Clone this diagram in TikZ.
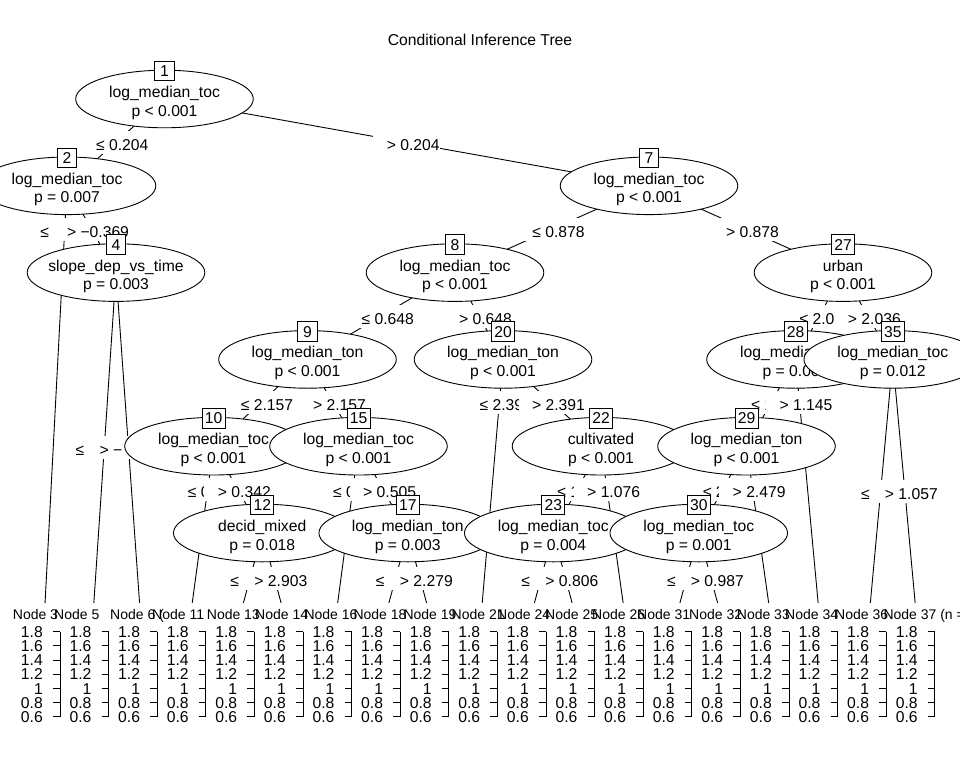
\documentclass[tikz,border=0pt]{standalone}
\usepackage{fontspec}
\setmainfont{Liberation Sans}
\usetikzlibrary{shapes.geometric,calc}
\tikzset{
  every node/.style={font=\fontsize{15.7}{18}\selectfont},
  ell/.style={ellipse, draw, fill=white, minimum width=177.6pt, minimum height=57.6pt, inner sep=0pt, line width=0.9pt},
  numbox/.style={rectangle, draw, fill=white, minimum width=19.5pt, minimum height=19.5pt, inner xsep=2.8pt, inner ysep=0pt, text height=11.3pt, text depth=0pt, line width=0.9pt},
  ntxt/.style={anchor=base, inner sep=0pt},
  edge/.style={line width=0.9pt},
  elab/.style={fill=white, inner xsep=0.5pt, inner ysep=2pt, text height=17.5pt, text depth=1.5pt},
  tlab/.style={anchor=base west, inner sep=0pt, font=\fontsize{14}{16}\selectfont},
  ylab/.style={anchor=base east, inner sep=0pt},
  ttl/.style={inner sep=0pt}
}
\newcommand\InnerNd[3]{%
  \node[ell] (n#1) at (c#1) {};
  \node[numbox] (b#1) at ([yshift=28pt]n#1.center) {#1};
  \node[ntxt] (u#1) at ([yshift=1.5pt]n#1.center) {#2};
  \node[ntxt] (l#1) at ([yshift=-17pt]n#1.center) {#3};
}
\newcommand\EdgeLn[2]{\draw[edge] (#1) -- (#2);}
\newcommand\EdgeLb[4]{\node[elab] (e#1#2) at ($(#1)!#3!(#2)$) {\kern13pt #4};}
\begin{document}
\begin{tikzpicture}[x=1pt,y=-1pt]
\fill[white] (0,0) rectangle (960,768);
\useasboundingbox (0,0) rectangle (960,768);
\node[ttl] (title) at (480,40) {Conditional Inference Tree};
% inner node centres
\coordinate (c1) at (164.5,99);
\coordinate (c2) at (67,185.8);
\coordinate (c4) at (116,272.6);
\coordinate (c7) at (649,185.8);
\coordinate (c8) at (455,272.6);
\coordinate (c27) at (843,272.6);
\coordinate (c9) at (307.5,359.4);
\coordinate (c20) at (503,359.4);
\coordinate (c28) at (795.5,359.4);
\coordinate (c35) at (892.75,359.4);
\coordinate (c10) at (213.5,446.2);
\coordinate (c15) at (358.5,446.2);
\coordinate (c22) at (601,446.2);
\coordinate (c29) at (746.5,446.2);
\coordinate (c12) at (262.25,533);
\coordinate (c17) at (407.75,533);
\coordinate (c23) at (553.25,533);
\coordinate (c30) at (698.75,533);
% terminal panels (top centre)
\coordinate (t3) at (44,623);
\coordinate (t5) at (92.5,623);
\coordinate (t6) at (141,623);
\coordinate (t11) at (189.5,623);
\coordinate (t13) at (238,623);
\coordinate (t14) at (286.5,623);
\coordinate (t16) at (335,623);
\coordinate (t18) at (383.5,623);
\coordinate (t19) at (432,623);
\coordinate (t21) at (480.5,623);
\coordinate (t24) at (529,623);
\coordinate (t25) at (577.5,623);
\coordinate (t26) at (626,623);
\coordinate (t31) at (674.5,623);
\coordinate (t32) at (723,623);
\coordinate (t33) at (771.5,623);
\coordinate (t34) at (820,623);
\coordinate (t36) at (868.5,623);
\coordinate (t37) at (917,623);
% node 1
\EdgeLn{c1}{c2}\EdgeLn{c1}{c7}
\EdgeLb{c1}{c2}{0.5}{≤ 0.204}\EdgeLb{c1}{c7}{0.5}{> 0.204}
% node 2
\EdgeLn{c2}{t3}\EdgeLn{c2}{c4}
\EdgeLb{c2}{t3}{0.0993}{≤ −0.369}\EdgeLb{c2}{c4}{0.5}{> −0.369}
% node 4
\EdgeLn{c4}{t5}\EdgeLn{c4}{t6}
\EdgeLb{c4}{t5}{0.5}{≤ −\phantom{00.000}}\EdgeLb{c4}{t6}{0.5}{> −\phantom{00.000}}
\InnerNd{4}{slope\_dep\_vs\_time}{p = 0.003}
\InnerNd{2}{log\_median\_toc}{p = 0.007}
% node 7
\EdgeLn{c7}{c8}\EdgeLn{c7}{c27}
\EdgeLb{c7}{c8}{0.5}{≤ 0.878}\EdgeLb{c7}{c27}{0.5}{> 0.878}
% node 8
\EdgeLn{c8}{c9}\EdgeLn{c8}{c20}
\EdgeLb{c8}{c9}{0.5}{≤ 0.648}\EdgeLb{c8}{c20}{0.5}{> 0.648}
% node 9
\EdgeLn{c9}{c10}\EdgeLn{c9}{c15}
\EdgeLb{c9}{c10}{0.5}{≤ 2.157}\EdgeLb{c9}{c15}{0.5}{> 2.157}
% node 10
\EdgeLn{c10}{t11}\EdgeLn{c10}{c12}
\EdgeLb{c10}{t11}{0.2455}{≤ 0.342}\EdgeLb{c10}{c12}{0.5}{> 0.342}
% node 12
\EdgeLn{c12}{t13}\EdgeLn{c12}{t14}
\EdgeLb{c12}{t13}{0.5}{≤ 2.903}\EdgeLb{c12}{t14}{0.5}{> 2.903}
\InnerNd{12}{decid\_mixed}{p = 0.018}
\InnerNd{10}{log\_median\_toc}{p < 0.001}
% node 15
\EdgeLn{c15}{t16}\EdgeLn{c15}{c17}
\EdgeLb{c15}{t16}{0.2455}{≤ 0.505}\EdgeLb{c15}{c17}{0.5}{> 0.505}
% node 17
\EdgeLn{c17}{t18}\EdgeLn{c17}{t19}
\EdgeLb{c17}{t18}{0.5}{≤ 2.279}\EdgeLb{c17}{t19}{0.5}{> 2.279}
\InnerNd{17}{log\_median\_ton}{p = 0.003}
\InnerNd{15}{log\_median\_toc}{p < 0.001}
\InnerNd{9}{log\_median\_ton}{p < 0.001}
% node 20
\EdgeLn{c20}{t21}\EdgeLn{c20}{c22}
\EdgeLb{c20}{t21}{0.1646}{≤ 2.391}\EdgeLb{c20}{c22}{0.5}{> 2.391}
% node 22
\EdgeLn{c22}{c23}\EdgeLn{c22}{t26}
\EdgeLb{c22}{c23}{0.5}{≤ 1.076}\EdgeLb{c22}{t26}{0.2455}{> 1.076}
% node 23
\EdgeLn{c23}{t24}\EdgeLn{c23}{t25}
\EdgeLb{c23}{t24}{0.5}{≤ 0.806}\EdgeLb{c23}{t25}{0.5}{> 0.806}
\InnerNd{23}{log\_median\_toc}{p = 0.004}
\InnerNd{22}{cultivated}{p < 0.001}
\InnerNd{20}{log\_median\_ton}{p < 0.001}
\InnerNd{8}{log\_median\_toc}{p < 0.001}
% node 27
\EdgeLn{c27}{c28}\EdgeLn{c27}{c35}
\EdgeLb{c27}{c28}{0.5}{≤ 2.036}\EdgeLb{c27}{c35}{0.5}{> 2.036}
% node 28
\EdgeLn{c28}{c29}\EdgeLn{c28}{t34}
\EdgeLb{c28}{c29}{0.5}{≤ 1.145}\EdgeLb{c28}{t34}{0.1646}{> 1.145}
% node 29
\EdgeLn{c29}{c30}\EdgeLn{c29}{t33}
\EdgeLb{c29}{c30}{0.5}{≤ 2.479}\EdgeLb{c29}{t33}{0.2455}{> 2.479}
% node 30
\EdgeLn{c30}{t31}\EdgeLn{c30}{t32}
\EdgeLb{c30}{t31}{0.5}{≤ 0.987}\EdgeLb{c30}{t32}{0.5}{> 0.987}
\InnerNd{30}{log\_median\_toc}{p = 0.001}
\InnerNd{29}{log\_median\_ton}{p < 0.001}
\InnerNd{28}{log\_median\_toc}{p = 0.00\phantom{0}}
% node 35
\EdgeLn{c35}{t36}\EdgeLn{c35}{t37}
\EdgeLb{c35}{t36}{0.5}{≤ 1.057}\EdgeLb{c35}{t37}{0.5}{> 1.057}
\InnerNd{35}{log\_median\_toc}{p = 0.012}
\InnerNd{27}{urban}{p < 0.001}
\InnerNd{7}{log\_median\_toc}{p < 0.001}
\InnerNd{1}{log\_median\_toc}{p < 0.001}
% terminal panels
\fill[white] (0,603.3) rectangle (960,625);
\foreach \xx/\tt in {12.7/3, 54/5, 110/6 (, 152/11, 206.7/13, 255/14, 304.3/16, 353.3/18, 403.3/19, 451.5/21, 497/24, 545/25, 592/26, 637/31, 689/32, 736.7/33, 785/34, 835/36, 883.3/37 (n =}{
  \node[tlab] (tl\xx) at (\xx,619.5) {Node \tt};
}
\foreach \i in {0,...,18}{
  \pgfmathsetmacro\xa{60+48.6*\i}
  \draw[edge] (\xa,631.7) -- (\xa,716.9);
  \foreach \v [count=\j from 0] in {1.8,1.6,1.4,1.2,1,0.8,0.6}{
    \pgfmathsetmacro\yy{631.7+14.2*\j}
    \draw[edge] (\xa-7,\yy) -- (\xa,\yy);
    \node[ylab] (ax\i-\j) at (\xa-17,\yy+5.6) {\v};
  }
}
\end{tikzpicture}
\end{document}
